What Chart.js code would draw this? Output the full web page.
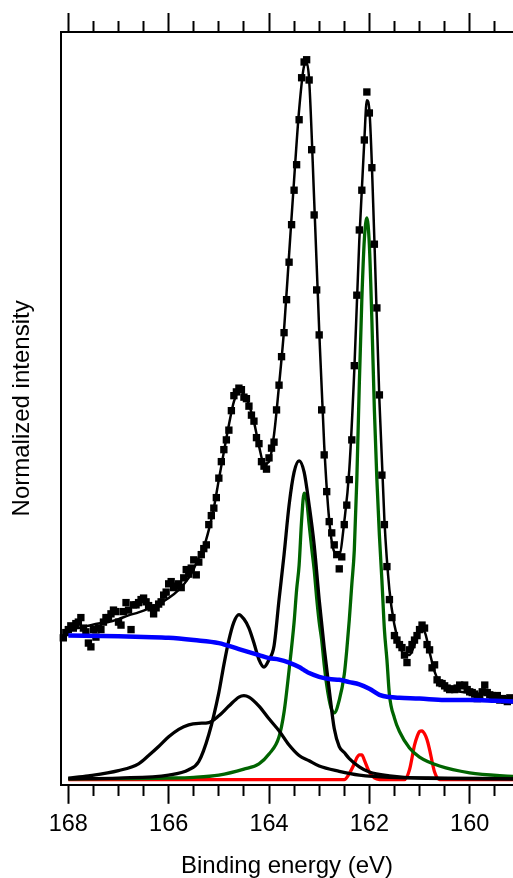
<!DOCTYPE html>
<html>
<head>
<meta charset="utf-8">
<script src="https://cdn.jsdelivr.net/npm/chart.js@4.4.1/dist/chart.umd.min.js"></script>
<style>
  html, body { margin: 0; padding: 0; background: #fff; }
  canvas { display: block; }
</style>
</head>
<body>
<canvas id="xps" width="513" height="878"></canvas>
<script>
// measured points (binding energy in eV, normalized intensity)
const dataE = [
  168.10, 168.05, 168.00, 167.95, 167.90, 167.85, 167.80, 167.75, 167.70, 167.65,
  167.60, 167.55, 167.50, 167.45, 167.40, 167.35, 167.30, 167.25, 167.20, 167.15,
  167.10, 167.05, 167.00, 166.95, 166.90, 166.85, 166.80, 166.75, 166.70, 166.65,
  166.60, 166.55, 166.50, 166.45, 166.40, 166.35, 166.30, 166.25, 166.20, 166.15,
  166.10, 166.05, 166.00, 165.95, 165.90, 165.85, 165.80, 165.75, 165.70, 165.65,
  165.60, 165.55, 165.50, 165.45, 165.40, 165.35, 165.30, 165.25, 165.20, 165.15,
  165.10, 165.05, 165.00, 164.95, 164.90, 164.85, 164.80, 164.75, 164.70, 164.65,
  164.60, 164.55, 164.50, 164.45, 164.40, 164.35, 164.30, 164.25, 164.20, 164.15,
  164.10, 164.05, 164.00, 163.95, 163.90, 163.85, 163.80, 163.75, 163.70, 163.65,
  163.60, 163.55, 163.50, 163.45, 163.40, 163.35, 163.30, 163.25, 163.20, 163.15,
  163.10, 163.05, 163.00, 162.95, 162.90, 162.85, 162.80, 162.75, 162.70, 162.65,
  162.60, 162.55, 162.50, 162.45, 162.40, 162.35, 162.30, 162.25, 162.20, 162.15,
  162.10, 162.05, 162.00, 161.95, 161.90, 161.85, 161.80, 161.75, 161.70, 161.65,
  161.60, 161.55, 161.50, 161.45, 161.40, 161.35, 161.30, 161.25, 161.20, 161.15,
  161.10, 161.05, 161.00, 160.95, 160.90, 160.85, 160.80, 160.75, 160.70, 160.65,
  160.60, 160.55, 160.50, 160.45, 160.40, 160.35, 160.30, 160.25, 160.20, 160.15,
  160.10, 160.05, 160.00, 159.95, 159.90, 159.85, 159.80, 159.75, 159.70, 159.65,
  159.60, 159.55, 159.50, 159.45, 159.40, 159.35, 159.30, 159.25, 159.20, 159.15
];
const dataI = [
  18.8, 19.5, 19.9, 20.4, 20.1, 20.7, 20.9, 21.5, 20.1, 19.6,
  18.1, 17.6, 19.9, 18.9, 20.1, 19.9, 20.9, 21.5, 21.5, 22.0,
  22.5, 22.3, 20.9, 20.5, 22.3, 23.5, 22.5, 19.9, 23.2, 23.2,
  23.5, 23.9, 24.1, 23.6, 23.1, 22.8, 22.0, 22.8, 23.3, 23.6,
  24.5, 24.9, 26.0, 26.3, 25.5, 25.7, 26.0, 25.5, 26.8, 27.9,
  27.3, 28.1, 29.2, 27.2, 28.9, 29.9, 30.7, 31.2, 33.9, 35.1,
  36.1, 37.5, 40.1, 42.3, 43.9, 45.2, 46.5, 49.1, 51.1, 51.6,
  52.1, 51.9, 50.9, 50.7, 49.7, 48.5, 47.7, 45.5, 44.7, 42.3,
  41.7, 41.3, 42.8, 44.1, 44.9, 49.2, 52.5, 56.3, 59.5, 63.9,
  68.9, 73.9, 78.5, 81.9, 87.9, 93.5, 95.6, 95.9, 93.2, 83.9,
  75.2, 65.2, 59.2, 49.2, 43.2, 38.3, 34.3, 32.8, 31.2, 29.9,
  28.0, 29.6, 33.9, 36.5, 39.9, 45.2, 55.1, 64.5, 73.2, 78.5,
  85.2, 91.6, 88.8, 81.5, 71.3, 62.8, 51.2, 40.5, 33.9, 28.3,
  23.9, 21.5, 19.1, 18.5, 17.9, 17.5, 16.5, 15.5, 17.2, 17.9,
  18.5, 19.1, 19.9, 20.5, 20.1, 17.9, 17.2, 14.8, 15.2, 13.2,
  12.8, 12.7, 12.4, 12.1, 11.9, 12.0, 11.9, 12.1, 12.5, 12.4,
  12.5, 11.9, 11.6, 11.5, 11.3, 10.7, 10.9, 11.6, 12.5, 11.5,
  11.2, 11.1, 10.9, 11.1, 10.5, 10.7, 10.5, 10.3, 10.8, 10.5
];

// total fit envelope
const fitE = [
  168.0, 167.8, 167.6, 167.4, 167.2, 167.0, 166.8, 166.6, 166.4, 166.2,
  166.0, 165.8, 165.6, 165.5, 165.4, 165.3, 165.2, 165.1, 165.0, 164.9,
  164.8, 164.7, 164.6, 164.5, 164.4, 164.3, 164.2, 164.1, 164.0, 163.9,
  163.8, 163.7, 163.6, 163.5, 163.4, 163.3, 163.25, 163.2, 163.1, 163.0,
  162.9, 162.8, 162.7, 162.6, 162.5, 162.4, 162.3, 162.2, 162.1, 162.05,
  162.0, 161.9, 161.8, 161.7, 161.6, 161.5, 161.4, 161.3, 161.2, 161.1,
  161.0, 160.9, 160.8, 160.7, 160.6, 160.5, 160.3, 160.0, 159.5, 159.1
];
const fitI = [
  20.0, 20.1, 20.4, 20.7, 20.9, 21.3, 21.8, 22.2, 22.7, 23.3,
  24.1, 25.2, 26.8, 28.0, 29.5, 30.9, 33.2, 36.1, 39.9, 43.6,
  47.2, 50.3, 51.7, 51.3, 49.9, 47.6, 44.4, 42.0, 42.3, 45.9,
  52.5, 59.9, 69.9, 79.9, 89.2, 95.1, 95.5, 93.2, 77.2, 59.9,
  44.5, 34.5, 30.3, 29.9, 34.3, 41.2, 54.5, 71.9, 85.2, 90.5,
  89.2, 71.9, 50.5, 34.5, 25.2, 20.5, 17.9, 16.5, 16.5, 17.9,
  19.9, 19.6, 16.9, 14.3, 12.8, 12.1, 11.7, 11.5, 11.1, 10.8
];

// background (blue)
const bgE = [168.0, 167.0, 166.5, 166.0, 165.5, 165.0, 164.6, 164.4, 164.2, 164.0,
  163.8, 163.6, 163.4, 163.3, 163.2, 163.0, 162.8, 162.6, 162.4, 162.2,
  162.0, 161.8, 161.6, 161.4, 161.0, 160.5, 160.0, 159.5, 159.1];
const bgI = [19.1, 19.0, 18.9, 18.8, 18.5, 18.1, 17.3, 16.9, 16.5, 16.1,
  15.9, 15.5, 14.9, 14.5, 14.1, 13.6, 13.3, 13.2, 12.9, 12.6,
  12.0, 11.2, 10.9, 10.8, 10.7, 10.5, 10.5, 10.4, 10.3];

// broad black component
const comp1E = [168.0, 167.6, 167.0, 166.6, 166.4, 166.2, 166.0, 165.8, 165.6, 165.4,
  165.2, 165.0, 164.8, 164.6, 164.5, 164.4, 164.2, 164.0, 163.8, 163.6,
  163.4, 163.2, 163.0, 162.6, 162.2, 161.6, 160.5, 159.1];
const comp1I = [0.1, 0.4, 1.1, 2.0, 3.1, 4.3, 5.6, 6.6, 7.2, 7.4,
  7.5, 8.4, 9.7, 10.9, 11.1, 10.9, 9.7, 8.0, 6.4, 4.5,
  3.1, 2.4, 1.7, 1.0, 0.5, 0.2, 0.1, 0.0];

// narrow black component
const comp2E = [168.0, 167.0, 166.0, 165.6, 165.4, 165.2, 165.0, 164.9, 164.8, 164.7,
  164.6, 164.5, 164.4, 164.3, 164.2, 164.1, 164.0, 163.9, 163.8, 163.7,
  163.6, 163.5, 163.4, 163.3, 163.2, 163.1, 163.0, 162.9, 162.8, 162.7,
  162.6, 162.5, 162.4, 162.2, 162.0, 161.6, 161.0, 159.1];
const comp2I = [0.0, 0.1, 0.5, 1.2, 2.3, 5.9, 11.5, 15.2, 18.5, 20.9,
  21.9, 21.3, 20.1, 18.1, 15.9, 14.9, 15.9, 17.7, 23.9, 29.9,
  36.5, 40.9, 42.4, 40.9, 36.5, 31.2, 23.9, 17.5, 11.9, 6.7,
  4.3, 3.5, 2.7, 1.6, 0.9, 0.4, 0.1, 0.0];

// green doublet
const greenE = [168.0, 166.0, 165.5, 165.0, 164.5, 164.2, 164.0, 163.8, 163.7, 163.6,
  163.5, 163.45, 163.4, 163.35, 163.3, 163.25, 163.2, 163.15, 163.1, 163.05,
  163.0, 162.95, 162.9, 162.85, 162.8, 162.75, 162.7, 162.6, 162.5, 162.45,
  162.4, 162.35, 162.3, 162.25, 162.2, 162.15, 162.1, 162.05, 162.0, 161.95,
  161.9, 161.85, 161.8, 161.75, 161.7, 161.65, 161.6, 161.5, 161.4, 161.2,
  161.0, 160.6, 160.0, 159.1];
const greenI = [0.0, 0.1, 0.2, 0.5, 1.3, 2.0, 3.3, 5.6, 8.9, 14.5,
  20.9, 25.2, 28.5, 34.5, 38.1, 37.2, 33.9, 30.8, 27.9, 24.1,
  20.9, 18.5, 15.2, 12.5, 10.5, 9.2, 8.8, 10.5, 13.9, 17.2,
  21.2, 25.9, 30.5, 39.9, 52.7, 63.9, 71.9, 74.8, 71.2, 61.2,
  49.2, 39.9, 32.5, 26.5, 19.9, 15.9, 11.2, 8.1, 6.3, 4.1,
  2.9, 1.7, 0.8, 0.3];

// red doublet
const redE = [168.0, 162.5, 162.4, 162.3, 162.25, 162.2, 162.15, 162.1, 162.0, 161.9,
  161.8, 161.3, 161.2, 161.1, 161.05, 161.0, 160.95, 160.9, 160.85, 160.8,
  160.7, 160.6, 159.1];
const redI = [-0.1, -0.1, 0.7, 2.0, 2.8, 3.2, 3.2, 2.5, 0.9, 0.1,
  -0.1, -0.1, 1.2, 4.5, 5.6, 6.3, 6.4, 6.0, 5.2, 3.9,
  0.9, -0.1, -0.1];

const FONT = '"Liberation Sans", Arial, Helvetica, sans-serif';
Chart.defaults.font.family = FONT;
Chart.defaults.color = '#000';

function pts(xs, ys) {
  return xs.map((x, i) => ({ x: x, y: ys[i] }));
}

function isMajor(v) {
  return Math.abs(v / 2 - Math.round(v / 2)) < 1e-6;
}

function curve(label, xs, ys, color, width, order) {
  return {
    label: label,
    data: pts(xs, ys),
    borderColor: color,
    borderWidth: width,
    pointRadius: 0,
    fill: false,
    cubicInterpolationMode: 'monotone',
    order: order
  };
}

const xRange = { min: 159.137, max: 168.146 };

function xAxis(pos) {
  return {
    type: 'linear',
    position: pos,
    reverse: true,
    min: xRange.min,
    max: xRange.max,
    border: { display: true, color: '#000', width: 2 },
    grid: {
      drawOnChartArea: false,
      drawTicks: true,
      tickLength: 19,
      tickWidth: 2,
      tickColor: '#000',
      tickBorderDash: ctx => (ctx.tick && isMajor(ctx.tick.value)) ? [] : (pos === 'top' ? [10, 8] : [10, 20]),
      tickBorderDashOffset: ctx => (ctx.tick && !isMajor(ctx.tick.value) && pos === 'top') ? 10 : 0
    },
    ticks: {
      display: pos === 'bottom',
      stepSize: 0.5,
      includeBounds: false,
      maxTicksLimit: 100,
      autoSkip: false,
      maxRotation: 0,
      padding: 7,
      color: '#000',
      font: { size: 23.5 },
      callback: v => isMajor(v) ? String(Math.round(v)) : ''
    },
    title: pos === 'bottom' ? {
      display: true,
      text: 'Binding energy (eV)',
      color: '#000',
      font: { size: 24, lineHeight: 1.0 },
      padding: { top: 8, bottom: 0 }
    } : { display: false }
  };
}

new Chart(document.getElementById('xps'), {
  type: 'line',
  data: {
    datasets: [
      curve('Background', bgE, bgI, '#0000ff', 4.5, 0),
      curve('Fit', fitE, fitI, '#000000', 2.5, 1),
      {
        label: 'Data',
        data: pts(dataE, dataI),
        showLine: false,
        pointStyle: 'rect',
        pointRadius: 5.2,
        pointBorderWidth: 0,
        pointBackgroundColor: '#000',
        pointBorderColor: '#000',
        clip: false,
        order: 2
      },
      curve('Component 1', comp1E, comp1I, '#000000', 3.3, 3),
      curve('Component 2', comp2E, comp2I, '#000000', 3.3, 3),
      curve('Component 3', greenE, greenI, '#006400', 3.3, 4),
      curve('Component 4', redE, redI, '#ff0000', 3.3, 5)
    ]
  },
  options: {
    responsive: false,
    devicePixelRatio: 1,
    animation: false,
    layout: { autoPadding: false, padding: { top: 13, left: 0, right: 0, bottom: 0 } },
    plugins: {
      legend: { display: false },
      tooltip: { enabled: false }
    },
    scales: {
      x: xAxis('bottom'),
      x2: xAxis('top'),
      y: {
        type: 'linear',
        position: 'left',
        min: -0.8,
        max: 99.6,
        border: { display: true, color: '#000', width: 2 },
        grid: { display: false, drawTicks: false },
        ticks: { display: false },
        title: {
          display: true,
          text: 'Normalized intensity',
          color: '#000',
          font: { size: 24 },
          padding: { top: 7.6, bottom: 24.6 }
        }
      }
    }
  }
});
</script>
</body>
</html>
